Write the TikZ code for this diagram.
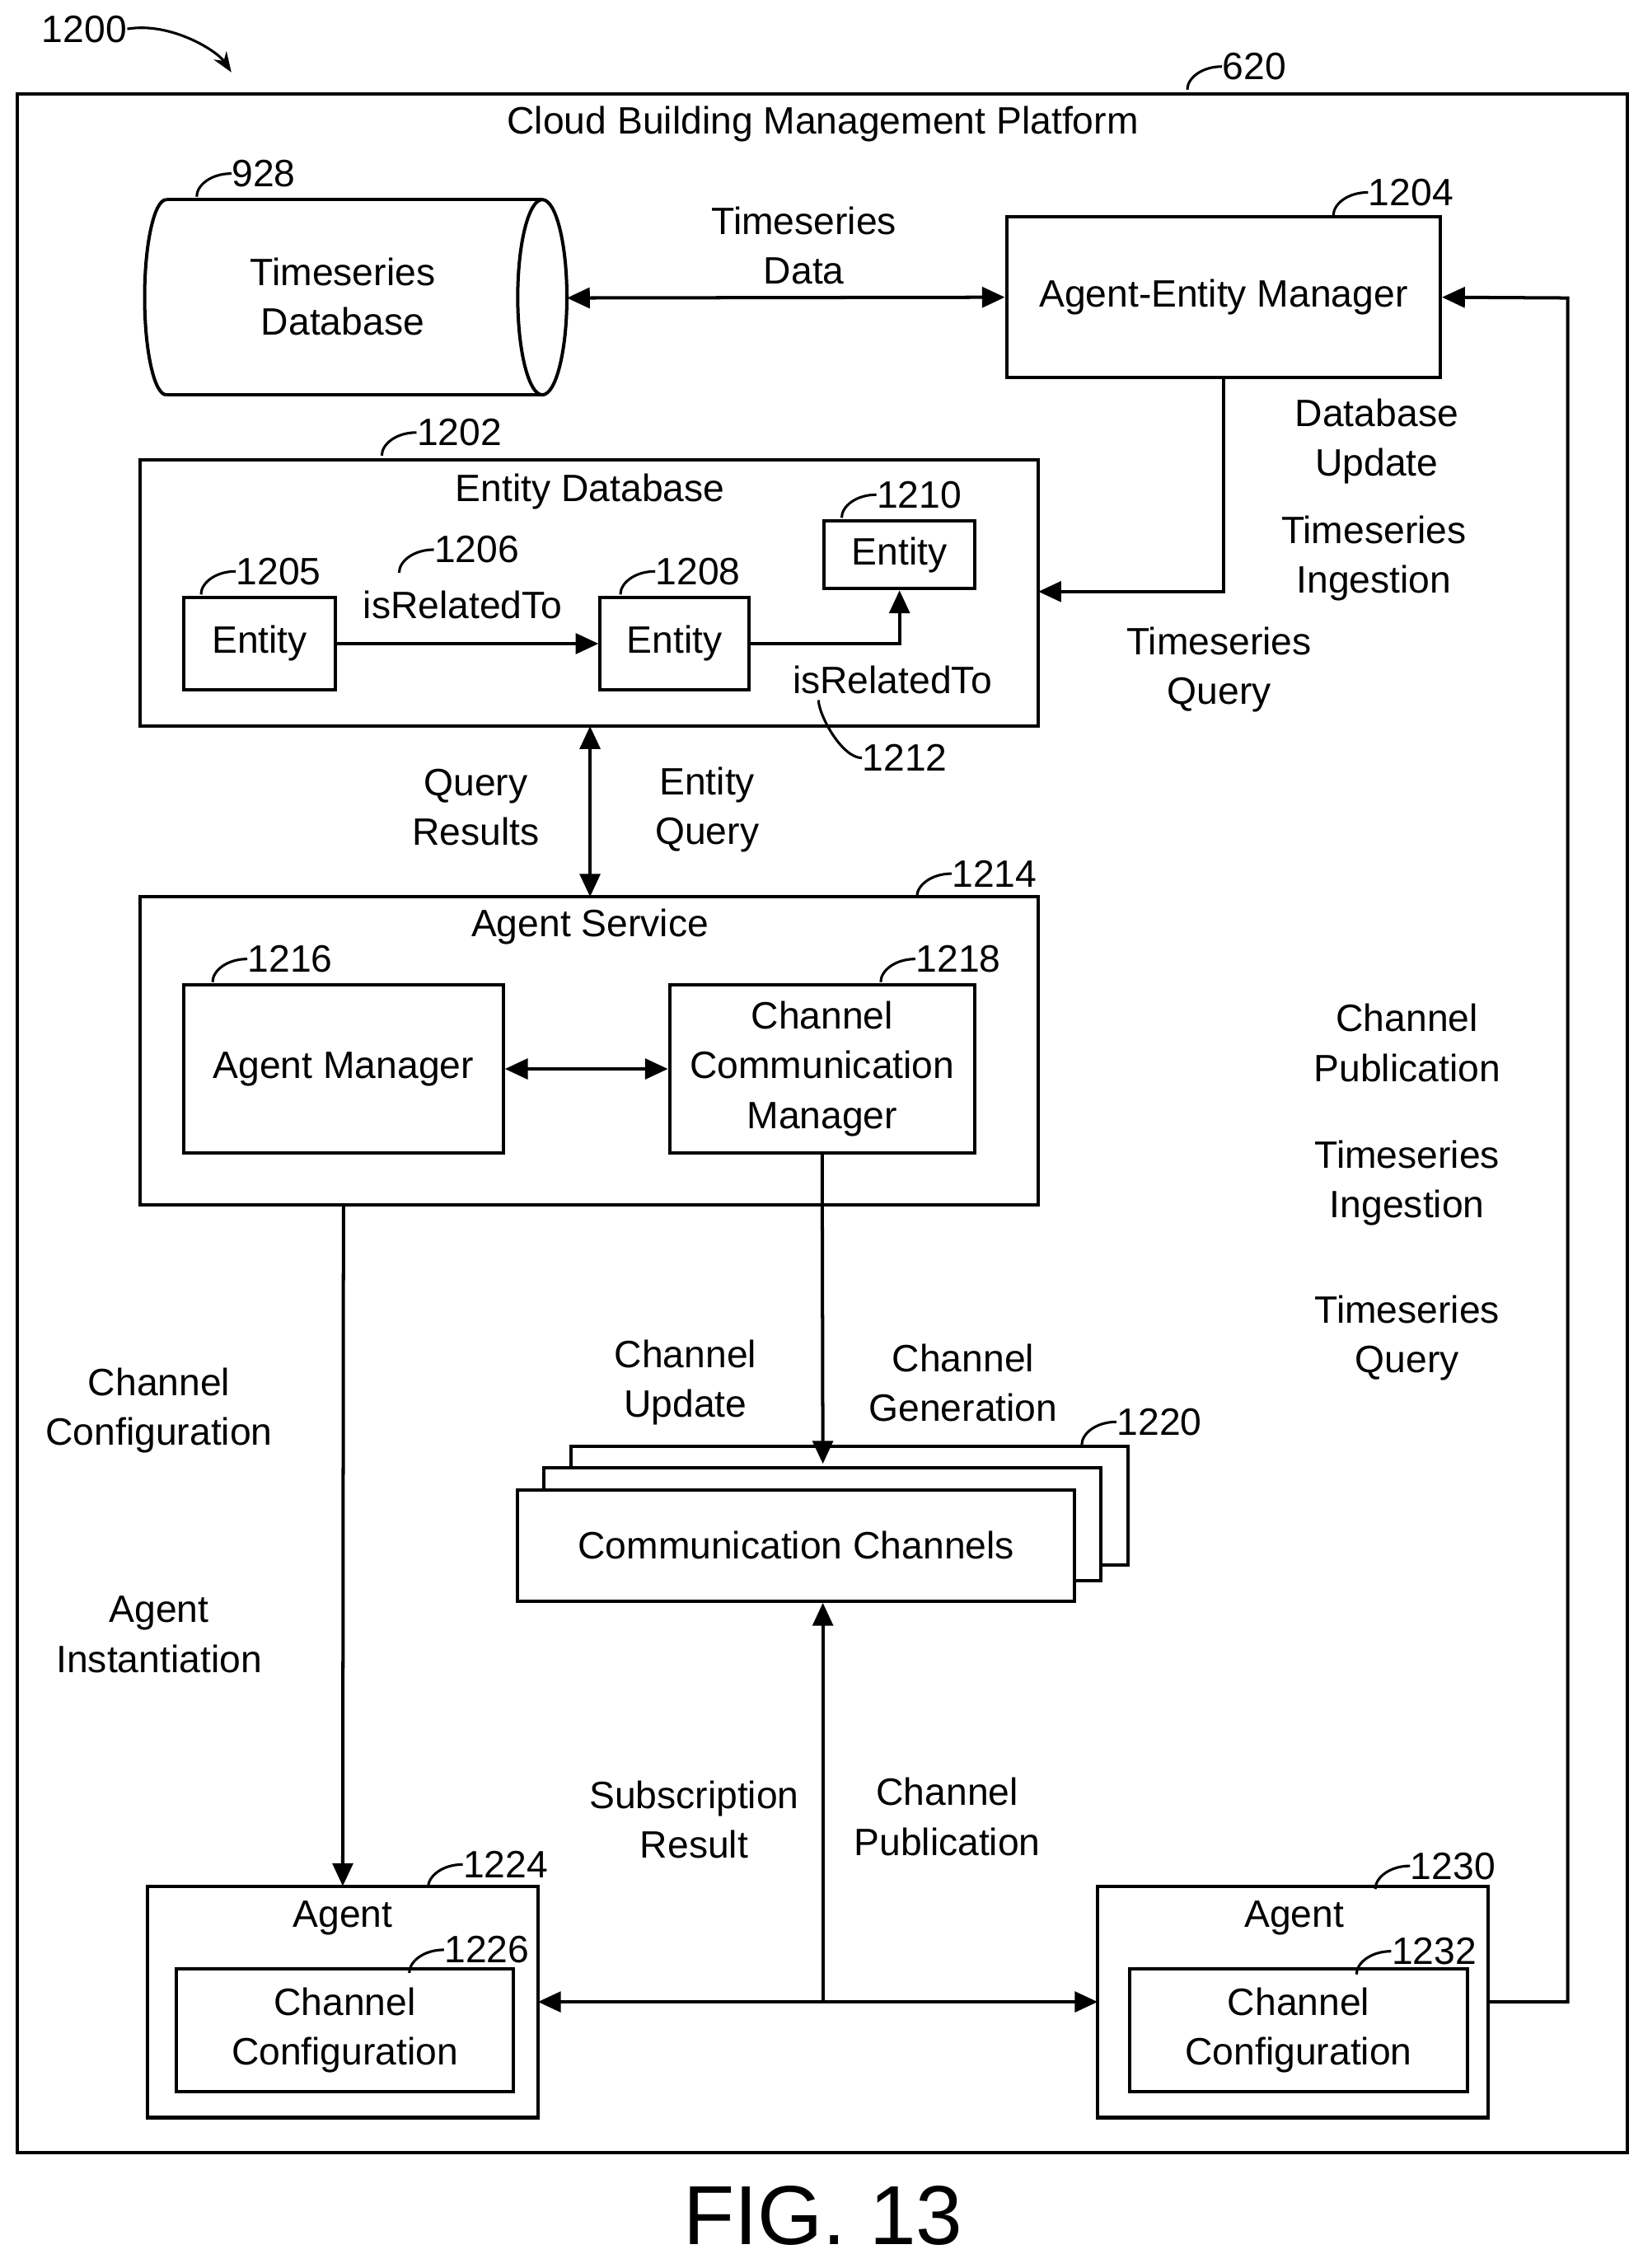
\documentclass[tikz,border=0pt]{standalone}
\usepackage{fontspec}
\setmainfont{Liberation Sans}
\usetikzlibrary{arrows.meta}
\begin{document}
\begin{tikzpicture}[x=0.02cm,y=-0.02cm,
  every node/.style={font=\fontsize{15}{19.5}\selectfont,align=center,inner sep=0pt},
  box/.style={draw,line width=1.3pt},
  ln/.style={line width=1.3pt},
  arr/.style={ln,-{Triangle[length=9pt,width=8pt]}},
  darr/.style={ln,{Triangle[length=9pt,width=8pt]}-{Triangle[length=9pt,width=8pt]}},
  sq/.style={line width=1pt}]
\useasboundingbox (0,0) rectangle (1136,1568);
\newcommand{\lbl}[3]{\node[anchor=west] (#3) at (#1) {#2};
  \draw[sq] (#3.west) .. controls +(-14,0) and +(0,-8) .. +(-24,16);}
% outer
\draw[box] (12,65) rectangle (1125,1488);
\node (title) at (569,86) {Cloud Building Management Platform};
\lbl{845,46}{620}{l620}
\node[anchor=east] (l1200) at (88,20) {1200};
\coordinate (a1200) at (160,50);
\draw[sq,-{Stealth[length=8pt]}] (l1200.east) .. controls +(30,-5) and +(-10,-15) .. (a1200);
% cylinder
\draw[ln] (115,138) -- (375,138) (115,273) -- (375,273);
\draw[ln] (375,205.5) ellipse [x radius=0.34cm, y radius=1.35cm];
\draw[ln] (115,138) arc (90:270:0.3cm and 1.35cm);
\node (tsdb) at (237,205) {Timeseries\\Database};
\coordinate (tsdbR) at (392,206);
\lbl{160,120}{928}{l928}
% AEM
\node[box,minimum width=6cm,minimum height=2.22cm] (aem) at (846,205.5) {Agent-Entity Manager};
\lbl{946,133}{1204}{l1204}
\draw[darr] (tsdbR) -- (aem.west);
\node at (556,170) {Timeseries\\Data};
% Entity DB
\draw[box] (97,318) rectangle (718,502);
\coordinate (edbR) at (718,409);
\coordinate (edbB) at (408,502);
\node at (408,340) {Entity Database};
\lbl{288,299}{1202}{l1202}
\node[box,minimum width=2.1cm,minimum height=1.28cm] (e1) at (179.5,445) {Entity};
\node[box,minimum width=2.06cm,minimum height=1.28cm] (e2) at (466.5,445) {Entity};
\node[box,minimum width=2.08cm,minimum height=0.94cm] (e3) at (622,383.5) {Entity};
\lbl{163,395}{1205}{l1205}
\lbl{453,395}{1208}{l1208}
\lbl{606,342}{1210}{l1210}
\draw[arr] (e1.east) -- (e2.west);
\node at (320,418) {isRelatedTo};
\lbl{300,380}{1206}{l1206}
\draw[arr] (e2.east) -- (622,445) -- (e3.south);
\node (ir2) at (617,470) {isRelatedTo};
\node[anchor=west] (l1212) at (596,524) {1212};
\draw[sq] (l1212.west) .. controls +(-14,0) and +(0,10) .. (566,484);
% AEM to EDB
\draw[arr] (aem.south) -- (846,409) -- (edbR);
\node at (952,305) {Database\\Update};
\node at (950,386) {Timeseries\\Ingestion};
\node at (843,463) {Timeseries\\Query};
% Agent service
\draw[box] (97,620) rectangle (718,833);
\coordinate (asT) at (408,620);
\node at (408,641) {Agent Service};
\lbl{658,604}{1214}{l1214}
\draw[darr] (edbB) -- (asT);
\node at (329,558) {Query\\Results};
\node at (489,560) {Entity\\Query};
\node[box,minimum width=4.42cm,minimum height=2.32cm] (am) at (237.5,739) {Agent Manager};
\node[box,minimum width=4.22cm,minimum height=2.32cm] (ccm) at (568.5,739) {Channel\\Communication\\Manager};
\lbl{171,663}{1216}{l1216}
\lbl{633,663}{1218}{l1218}
\draw[darr] (am.east) -- (ccm.west);
% channels
\draw[box,fill=white] (395,1000) rectangle (780,1082);
\draw[box,fill=white] (376,1015) rectangle (761,1093);
\node[box,fill=white,minimum width=7.7cm,minimum height=1.54cm] (cc) at (550.5,1068.5) {Communication Channels};
\lbl{772,983}{1220}{l1220}
\coordinate (ccT) at (569,1012);
\draw[arr] (ccm.south) -- (ccT);
\node at (474,956) {Channel\\Update};
\node at (666,956) {Channel\\Generation};
% agents
\draw[box] (102,1304) rectangle (372,1464);
\node at (237,1326) {Agent};
\node[box,minimum width=4.66cm,minimum height=1.7cm] (cfg1) at (238.5,1403.5) {Channel\\Configuration};
\lbl{320,1289}{1224}{l1224}
\lbl{307,1348}{1226}{l1226}
\draw[box] (759,1304) rectangle (1029,1464);
\node at (895,1326) {Agent};
\node[box,minimum width=4.68cm,minimum height=1.7cm] (cfg2) at (898,1403.5) {Channel\\Configuration};
\lbl{975,1290}{1230}{l1230}
\lbl{962,1349}{1232}{l1232}
\coordinate (ag1T) at (237,1304);
\coordinate (ag1R) at (372,1384);
\coordinate (ag2L) at (759,1384);
\coordinate (ag2R) at (1029,1384);
\coordinate (jn) at (569,1384);
\draw[arr] (am.south |- 0,833) -- (ag1T);
\node at (110,975) {Channel\\Configuration};
\node at (110,1130) {Agent\\Instantiation};
\draw[darr] (ag1R) -- (ag2L);
\draw[arr] (jn) -- (cc.south -| jn);
\node at (480,1258) {Subscription\\Result};
\node at (655,1256) {Channel\\Publication};
\draw[arr] (ag2R) -- (1084,1384) -- (1084,206) -- (aem.east);
\node at (973,721) {Channel\\Publication};
\node at (973,818) {Timeseries\\Ingestion};
\node at (973,925) {Timeseries\\Query};
\node[font=\fontsize{33}{36}\selectfont] at (569,1532) {FIG. 13};
\end{tikzpicture}
\end{document}
